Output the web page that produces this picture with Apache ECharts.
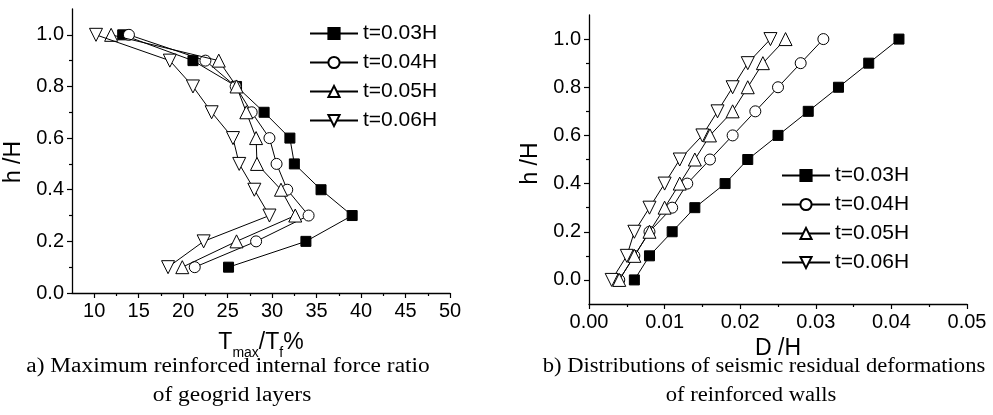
<!DOCTYPE html>
<html>
<head>
<meta charset="UTF-8">
<title>geogrid walls</title>
<script src="https://cdn.jsdelivr.net/npm/echarts@6/dist/echarts.min.js"></script>
<style>
  html, body { margin: 0; padding: 0; background: #fff; }
  #chart { width: 993px; height: 415px; }
</style>
</head>
<body>
<div id="chart"></div>
<script>
// series names (both panels)
var names = ['t=0.03H', 't=0.04H', 't=0.05H', 't=0.06H'];

// panel a) heights h/H and Tmax/Tf % for each t
var hA = [1.0, 0.9, 0.8, 0.7, 0.6, 0.5, 0.4, 0.3, 0.2, 0.1];
var tA03 = [13.2, 21.1, 26.0, 29.1, 32.0, 32.5, 35.5, 39.0, 33.8, 25.1];
var tA04 = [13.9, 22.5, 25.9, 27.7, 29.7, 30.5, 31.7, 34.1, 28.2, 21.3];
var tA05 = [11.9, 24.0, 26.0, 27.1, 28.2, 28.3, 31.0, 32.6, 26.0, 19.9];
var tA06 = [10.2, 18.5, 21.1, 23.2, 25.6, 26.3, 28.0, 29.7, 22.3, 18.3];

// panel b) heights h/H and D/H for each t
var hB = [0.0, 0.1, 0.2, 0.3, 0.4, 0.5, 0.6, 0.7, 0.8, 0.9, 1.0];
var dB03 = [0.006, 0.008, 0.011, 0.014, 0.018, 0.021, 0.025, 0.029, 0.033, 0.037, 0.041];
var dB04 = [0.004, 0.006, 0.008, 0.011, 0.013, 0.016, 0.019, 0.022, 0.025, 0.028, 0.031];
var dB05 = [0.004, 0.006, 0.008, 0.010, 0.012, 0.014, 0.016, 0.019, 0.021, 0.023, 0.026];
var dB06 = [0.003, 0.005, 0.006, 0.008, 0.010, 0.012, 0.015, 0.017, 0.019, 0.021, 0.024];

// tick values
var xTicksA = [10, 15, 20, 25, 30, 35, 40, 45, 50];
var xMinorA = [12.5, 17.5, 22.5, 27.5, 32.5, 37.5, 42.5, 47.5];
var yTicksA = [0, 0.2, 0.4, 0.6, 0.8, 1.0];
var yMinorA = [0.1, 0.3, 0.5, 0.7, 0.9];
var xTicksB = [0, 0.01, 0.02, 0.03, 0.04, 0.05];
var xMinorB = [0.005, 0.015, 0.025, 0.035, 0.045];
var yTicksB = [0, 0.2, 0.4, 0.6, 0.8, 1.0];
var yMinorB = [0.1, 0.3, 0.5, 0.7, 0.9];

function pairs(xs, ys) {
    var out = [];
    for (var i = 0; i < xs.length; i++) out.push([xs[i], ys[i]]);
    return out;
}

var black = '#000';
var font = 'Liberation Sans, Arial, sans-serif';
var serif = '20px "Liberation Serif", "Times New Roman", serif';

// marker styles per series
var marks = [
    { symbol: 'rect', size: 10, fill: black, rot: 0 },
    { symbol: 'circle', size: 11, fill: '#fff', rot: 0 },
    { symbol: 'triangle', size: 13, fill: '#fff', rot: 0 },
    { symbol: 'triangle', size: 13, fill: '#fff', rot: 180 }
];

function mkSeries(name, i, data, xi, yi) {
    var m = marks[i];
    return {
        name: name, type: 'line', data: data,
        xAxisIndex: xi, yAxisIndex: yi,
        symbol: m.symbol, symbolSize: m.size, symbolRotate: m.rot,
        showAllSymbol: true,
        lineStyle: { color: black, width: 1 },
        itemStyle: { color: m.fill, borderColor: black, borderWidth: 1 },
        z: 2 + i,
        animation: false
    };
}

function mainAxis(grid, pos, min, max, ticks, fmt, extra) {
    var ax = {
        type: 'value', gridIndex: grid, position: pos, min: min, max: max,
        splitLine: { show: false },
        axisLine: { show: true, onZero: false, lineStyle: { color: black, width: 1.3 } },
        axisTick: { show: true, inside: false, length: 5, customValues: ticks, lineStyle: { color: black, width: 1.2 } },
        axisLabel: { customValues: ticks, color: black, fontFamily: font, fontSize: 20, margin: 8, formatter: fmt }
    };
    for (var k in extra) ax[k] = extra[k];
    return ax;
}

function minorAxis(grid, pos, min, max, ticks) {
    return {
        type: 'value', gridIndex: grid, position: pos, min: min, max: max,
        splitLine: { show: false },
        axisLine: { show: false, onZero: false },
        axisTick: { show: true, inside: false, length: 3, customValues: ticks, lineStyle: { color: black, width: 1.2 } },
        axisLabel: { show: false }
    };
}

var f0 = function (v) { return String(v); };
var f1 = function (v) { return v.toFixed(1); };
var f2 = function (v) { return v.toFixed(2); };

var legendBase = {
    orient: 'vertical', itemWidth: 48, itemHeight: 14, itemGap: 8, padding: 0,
    selectedMode: false,
    textStyle: { color: black, fontFamily: font, fontSize: 21 },
    data: names
};

function caption(text, x, y, sx) {
    return {
        type: 'text', x: x, y: y, scaleX: sx,
        style: { text: text, font: serif, fill: black, textAlign: 'center', textVerticalAlign: 'middle' }
    };
}

var chart = echarts.init(document.getElementById('chart'), null, { renderer: 'canvas' });

var option = {
    backgroundColor: '#fff',
    animation: false,
    grid: [
        { left: 72, top: 9, width: 378, height: 284 },
        { left: 589, top: 15, width: 378, height: 289 }
    ],
    legend: [
        Object.assign({}, legendBase, { left: 309, top: 23 }),
        Object.assign({}, legendBase, { left: 781, top: 165 })
    ],
    xAxis: [
        mainAxis(0, 'bottom', 7.5, 50, xTicksA, f0, {
            name: 'T{s|max}/T{s|f}%', nameLocation: 'middle', nameGap: 26,
            nameTextStyle: {
                color: black, fontFamily: font, fontSize: 23, lineHeight: 34,
                rich: {
                    s: { fontSize: 14, fontFamily: font, color: black, lineHeight: 14, verticalAlign: 'bottom' }
                }
            }
        }),
        minorAxis(0, 'bottom', 7.5, 50, xMinorA),
        mainAxis(1, 'bottom', 0, 0.05, xTicksB, f2, {
            name: 'D /H', nameLocation: 'middle', nameGap: 32,
            nameTextStyle: { color: black, fontFamily: font, fontSize: 23 }
        }),
        minorAxis(1, 'bottom', 0, 0.05, xMinorB)
    ],
    yAxis: [
        mainAxis(0, 'left', 0, 1.1, yTicksA, f1, {
            name: 'h /H', nameLocation: 'middle', nameGap: 47, nameRotate: 90,
            nameTextStyle: { color: black, fontFamily: font, fontSize: 23, padding: [0, 22, 0, 0] }
        }),
        minorAxis(0, 'left', 0, 1.1, yMinorA),
        mainAxis(1, 'left', -0.1, 1.1, yTicksB, f1, {
            name: 'h /H', nameLocation: 'middle', nameGap: 47, nameRotate: 90,
            nameTextStyle: { color: black, fontFamily: font, fontSize: 23, padding: [0, 8, 0, 0] }
        }),
        minorAxis(1, 'left', -0.1, 1.1, yMinorB)
    ],
    series: [
        mkSeries(names[0], 0, pairs(tA03, hA), 0, 0),
        mkSeries(names[1], 1, pairs(tA04, hA), 0, 0),
        mkSeries(names[2], 2, pairs(tA05, hA), 0, 0),
        mkSeries(names[3], 3, pairs(tA06, hA), 0, 0),
        mkSeries(names[0], 0, pairs(dB03, hB), 2, 2),
        mkSeries(names[1], 1, pairs(dB04, hB), 2, 2),
        mkSeries(names[2], 2, pairs(dB05, hB), 2, 2),
        mkSeries(names[3], 3, pairs(dB06, hB), 2, 2)
    ],
    graphic: [
        caption('a) Maximum reinforced internal force ratio', 228, 367, 1.17),
        caption('of geogrid layers', 232, 396, 1.17),
        caption('b) Distributions of seismic residual deformations', 764, 367, 1.13),
        caption('of reinforced walls', 751, 396, 1.13)
    ]
};

chart.setOption(option);
</script>
</body>
</html>
